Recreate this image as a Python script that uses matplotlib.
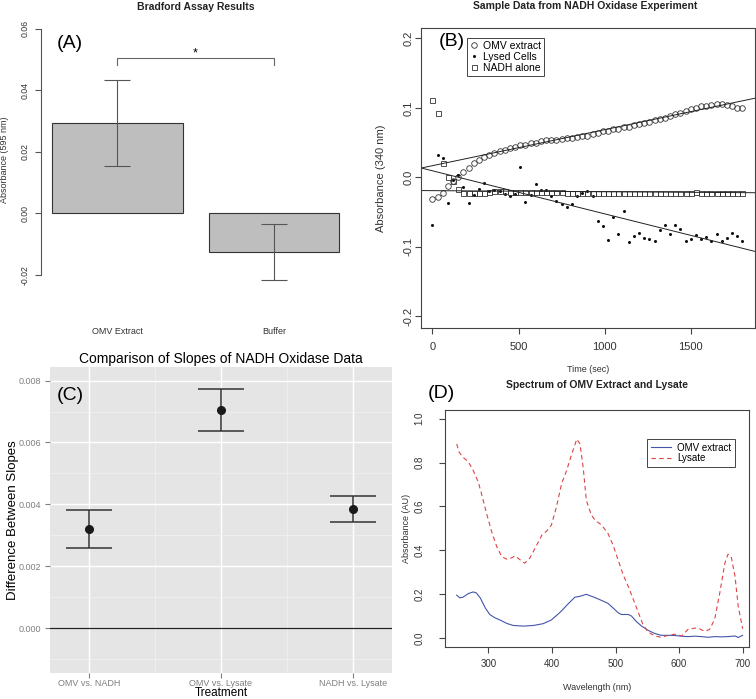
import numpy as np
import matplotlib
matplotlib.use('Agg')
import matplotlib.pyplot as plt

plt.rcParams['font.family'] = ['Liberation Sans', 'DejaVu Sans']

W, H = 756, 699

# ---- (A) Bradford assay ----
bradford_labels = ['OMV Extract', 'Buffer']
bradford_mean = [0.0293, -0.0127]
bradford_lo = [0.0153, -0.0218]
bradford_hi = [0.0433, -0.0036]

# ---- (B) NADH oxidase time course ----
time_s = np.arange(0, 1801, 30)
omv_abs = [-0.031, -0.029, -0.022, -0.013, -0.006, 0.001, 0.008, 0.014, 0.020, 0.025,
           0.029, 0.032, 0.035, 0.038, 0.040, 0.042, 0.044, 0.046, 0.047, 0.049,
           0.050, 0.052, 0.053, 0.054, 0.054, 0.055, 0.056, 0.057, 0.058, 0.059,
           0.060, 0.062, 0.064, 0.066, 0.067, 0.069, 0.070, 0.072, 0.073, 0.075,
           0.077, 0.078, 0.080, 0.082, 0.084, 0.086, 0.088, 0.091, 0.093, 0.096,
           0.098, 0.100, 0.102, 0.103, 0.104, 0.105, 0.105, 0.104, 0.102, 0.100, 0.100]
lysed_abs = [-0.069, 0.032, 0.028, -0.037, -0.004, 0.003, -0.014, -0.037, -0.026, -0.017,
             -0.008, -0.020, -0.018, -0.020, -0.024, -0.027, -0.024, 0.015, -0.036, -0.025,
             -0.010, -0.018, -0.018, -0.027, -0.034, -0.039, -0.043, -0.038, -0.027, -0.022,
             -0.020, -0.027, -0.063, -0.070, -0.090, -0.057, -0.081, -0.048, -0.093, -0.084,
             -0.080, -0.087, -0.089, -0.091, -0.076, -0.069, -0.082, -0.069, -0.075, -0.092,
             -0.089, -0.083, -0.089, -0.086, -0.092, -0.082, -0.092, -0.088, -0.080, -0.085, -0.091]
nadh_abs = [0.112, 0.093, 0.021, 0.000, -0.006, -0.017, -0.022, -0.023, -0.023, -0.022,
            -0.022, -0.021, -0.020, -0.019, -0.020, -0.021, -0.021, -0.021, -0.021, -0.021,
            -0.021, -0.021, -0.021, -0.021, -0.021, -0.021, -0.022, -0.022, -0.022, -0.022,
            -0.022, -0.022, -0.022, -0.022, -0.022, -0.022, -0.022, -0.022, -0.022, -0.022,
            -0.022, -0.022, -0.022, -0.022, -0.022, -0.022, -0.022, -0.022, -0.023, -0.023,
            -0.023, -0.021, -0.022, -0.022, -0.023, -0.023, -0.023, -0.023, -0.023, -0.023, -0.023]
fit_intercept = [0.0167, 0.0094, -0.0192]
fit_slope = [5.19e-5, -6.2e-5, -1.6e-6]
series_names = ['OMV extract', 'Lysed Cells', 'NADH alone']

# ---- (C) slope differences ----
comp_labels = ['OMV vs. NADH', 'OMV vs. Lysate', 'NADH vs. Lysate']
comp_mean = [0.00320, 0.00704, 0.00385]
comp_lo = [0.00260, 0.00636, 0.00342]
comp_hi = [0.00381, 0.00774, 0.00428]

# ---- (D) spectra ----
wl_omv = [250, 255, 260, 268, 276, 281, 287, 295, 302, 310, 318, 329, 339, 355, 371, 386,
          399, 412, 426, 436, 444, 454, 465, 475, 488, 496, 504, 509, 520, 525, 533, 541,
          551, 562, 572, 583, 593, 604, 614, 625, 635, 646, 656, 667, 677, 688, 693, 700]
spec_omv = [0.195, 0.183, 0.186, 0.202, 0.210, 0.205, 0.183, 0.137, 0.107, 0.092, 0.082,
            0.066, 0.057, 0.054, 0.057, 0.065, 0.082, 0.115, 0.157, 0.186, 0.190, 0.199,
            0.187, 0.175, 0.158, 0.137, 0.115, 0.107, 0.107, 0.100, 0.074, 0.054, 0.035,
            0.020, 0.012, 0.012, 0.011, 0.008, 0.006, 0.008, 0.006, 0.003, 0.006, 0.005,
            0.006, 0.009, 0.002, 0.012]
wl_lys = [250, 254, 260, 268, 276, 284, 289, 297, 305, 313, 321, 329, 336, 342, 350, 357,
          365, 376, 384, 392, 399, 407, 415, 423, 431, 439, 444, 449, 454, 462, 468, 478,
          488, 496, 504, 512, 520, 528, 536, 543, 551, 562, 572, 583, 593, 604, 614, 625,
          632, 640, 648, 656, 664, 672, 677, 682, 688, 693, 700]
spec_lys = [0.885, 0.847, 0.824, 0.805, 0.764, 0.711, 0.658, 0.568, 0.485, 0.417, 0.371,
            0.359, 0.365, 0.374, 0.356, 0.341, 0.364, 0.424, 0.469, 0.489, 0.515, 0.598,
            0.703, 0.764, 0.839, 0.907, 0.885, 0.779, 0.628, 0.560, 0.537, 0.515, 0.477,
            0.424, 0.356, 0.288, 0.235, 0.175, 0.115, 0.062, 0.027, 0.009, 0.003, 0.012,
            0.017, 0.009, 0.039, 0.045, 0.042, 0.030, 0.039, 0.085, 0.205, 0.341, 0.382,
            0.371, 0.281, 0.145, 0.042]


def fx(x):
    return x / W


def fy(y):
    return 1 - y / H


def add_ax(l, t, r, b):
    return fig.add_axes([l / W, 1 - b / H, (r - l) / W, (b - t) / H])


fig = plt.figure(figsize=(W / 100, H / 100), dpi=100)
dark = '#444444'

# ================= Panel A =================
axA = add_ax(40.6, 20, 350.7, 290)
xa = 0.7 + 1.2 * np.arange(len(bradford_mean))
mean_a = np.array(bradford_mean)
axA.bar(xa, mean_a, width=1.0, color='#BEBEBE', edgecolor='#333333', linewidth=0.8)
axA.errorbar(xa, mean_a, yerr=[mean_a - np.array(bradford_lo), np.array(bradford_hi) - mean_a],
             fmt='none', ecolor='#555555', elinewidth=0.8, capsize=9.5, capthick=0.8)
axA.plot([xa[0], xa[0], xa[1], xa[1]], [0.0481, 0.0504, 0.0504, 0.0481], color='#666666', lw=0.8)
axA.text(xa.mean(), 0.0500, '*', ha='center', va='bottom', fontsize=9)
axA.set_xlim(0.112, 2.488)
axA.set_ylim(-0.025, 0.0628)
for s in ['top', 'right', 'bottom']:
    axA.spines[s].set_visible(False)
axA.spines['left'].set_bounds(-0.02, 0.06)
axA.spines['left'].set_color('#555555')
axA.set_yticks([-0.02, 0.0, 0.02, 0.04, 0.06])
axA.set_yticklabels(['-0.02', '0.00', '0.02', '0.04', '0.06'], rotation=90, va='center')
axA.tick_params(axis='y', labelsize=6.3, length=4, color='#555555', labelcolor='#333333', pad=4)
axA.set_xticks(xa)
axA.set_xticklabels(bradford_labels)
axA.tick_params(axis='x', length=0, labelsize=6.5, pad=27, labelcolor='#333333')
axA.set_facecolor('none')
fig.text(fx(196), fy(7), 'Bradford Assay Results', ha='center', va='center',
         fontsize=7.5, fontweight='bold', color='#222222')
fig.text(fx(5), fy(160), 'Absorbance (595 nm)', ha='center', va='center', rotation=90,
         fontsize=6.5, color='#333333')
fig.text(fx(70), fy(43), '(A)', ha='center', va='center', fontsize=14)

# ================= Panel B =================
axB = add_ax(421, 28, 754.5, 328)
axB.plot(time_s, omv_abs, 'o', mfc='none', mec='#333333', ms=4, mew=0.6, label=series_names[0])
axB.plot(time_s, lysed_abs, 'o', mfc='#111111', mec='#111111', ms=2.2, mew=0, label=series_names[1])
axB.plot(time_s, nadh_abs, 's', mfc='none', mec='#333333', ms=3.6, mew=0.6, label=series_names[2])
for b0, b1 in zip(fit_intercept, fit_slope):
    axB.axline((0, b0), slope=b1, color='#222222', lw=0.7)
axB.set_xlim(-66, 1870)
axB.set_ylim(-0.217, 0.215)
axB.set_xticks([0, 500, 1000, 1500])
axB.set_yticks([-0.2, -0.1, 0.0, 0.1, 0.2])
axB.set_yticklabels(['-0.2', '-0.1', '0.0', '0.1', '0.2'], rotation=90, va='center')
axB.tick_params(axis='x', labelsize=8, length=4, color=dark, labelcolor='#333333', pad=6)
axB.tick_params(axis='y', labelsize=8, length=4, color=dark, labelcolor='#333333', pad=1.5)
for s in axB.spines.values():
    s.set_color(dark)
    s.set_linewidth(0.8)
leg = axB.legend(loc='upper left', bbox_to_anchor=(fx(467), fy(38)), bbox_transform=fig.transFigure,
                 borderaxespad=0, fancybox=False, edgecolor=dark, fontsize=7.5,
                 handlelength=0.8, handletextpad=0.5, borderpad=0.25, labelspacing=0.12,
                 framealpha=1)
leg.get_frame().set_linewidth(0.7)
fig.text(fx(585), fy(6), 'Sample Data from NADH Oxidase Experiment', ha='center', va='center',
         fontsize=7.5, fontweight='bold', color='#222222')
fig.text(fx(588), fy(370), 'Time (sec)', ha='center', va='center', fontsize=6.5, color='#333333')
fig.text(fx(381), fy(178), 'Absorbance (340 nm)', ha='center', va='center', rotation=90,
         fontsize=8, color='#333333')
fig.text(fx(452), fy(42), '(B)', ha='center', va='center', fontsize=14)

# ================= Panel C =================
axC = add_ax(50, 367, 391.7, 673)
axC.set_facecolor('#E5E5E5')
xc = np.arange(1, len(comp_mean) + 1)
axC.set_xlim(0.706, 3.292)
axC.set_ylim(-0.00145, 0.00844)
axC.set_xticks(xc)
axC.set_xticklabels(comp_labels)
axC.set_xticks([1.5, 2.5], minor=True)
axC.set_yticks([0.0, 0.002, 0.004, 0.006, 0.008])
axC.set_yticklabels(['0.000', '0.002', '0.004', '0.006', '0.008'])
axC.set_yticks([-0.001, 0.001, 0.003, 0.005, 0.007], minor=True)
axC.grid(which='major', color='white', lw=1.0)
axC.grid(which='minor', color='#F2F2F2', lw=0.5)
axC.set_axisbelow(True)
for s in axC.spines.values():
    s.set_visible(False)
axC.tick_params(which='major', labelsize=6.5, length=3.5, color='#7F7F7F', labelcolor='#7F7F7F')
axC.tick_params(axis='y', pad=3)
axC.tick_params(axis='x', pad=1)
axC.tick_params(which='minor', length=0)
axC.axhline(0, color='#222222', lw=0.9)
cm = np.array(comp_mean)
axC.errorbar(xc, cm, yerr=[cm - np.array(comp_lo), np.array(comp_hi) - cm], fmt='o',
             color='#1A1A1A', ecolor='#333333', ms=5.5, elinewidth=1.1, capsize=16.5, capthick=1.1)
fig.text(fx(221), fy(359), 'Comparison of Slopes of NADH Oxidase Data', ha='center', va='center',
         fontsize=10)
fig.text(fx(13), fy(520), 'Difference Between Slopes', ha='center', va='center', rotation=90,
         fontsize=9.5)
fig.text(fx(221), fy(693), 'Treatment', ha='center', va='center', fontsize=8.5)
fig.text(fx(70), fy(396), '(C)', ha='center', va='center', fontsize=14)

# ================= Panel D =================
axD = add_ax(445, 410, 749, 646.7)
axD.plot(wl_omv, spec_omv, color='#4455AA', lw=0.8, label='OMV extract')
axD.plot(wl_lys, spec_lys, color='#DD4444', lw=0.8, ls=(0, (4, 3)), label='Lysate')
axD.set_xlim(231.6, 710)
axD.set_ylim(-0.04, 1.04)
axD.set_xticks([300, 400, 500, 600, 700])
axD.set_yticks([0.0, 0.2, 0.4, 0.6, 0.8, 1.0])
axD.set_yticklabels(['0.0', '0.2', '0.4', '0.6', '0.8', '1.0'], rotation=90, va='center')
axD.tick_params(axis='x', labelsize=7, length=4, color=dark, labelcolor='#333333', pad=5)
axD.tick_params(axis='y', labelsize=7, length=4, color=dark, labelcolor='#333333', pad=11)
for s in axD.spines.values():
    s.set_color(dark)
    s.set_linewidth(0.8)
legD = axD.legend(loc='upper left', bbox_to_anchor=(fx(647), fy(439)), bbox_transform=fig.transFigure,
                  borderaxespad=0, fancybox=False, edgecolor=dark, fontsize=7,
                  handlelength=2.1, handletextpad=0.6, borderpad=0.4, labelspacing=0.05,
                  framealpha=1)
legD.get_frame().set_linewidth(0.7)
fig.text(fx(597), fy(385), 'Spectrum of OMV Extract and Lysate', ha='center', va='center',
         fontsize=7.5, fontweight='bold', color='#222222')
fig.text(fx(597), fy(687), 'Wavelength (nm)', ha='center', va='center', fontsize=6.5, color='#333333')
fig.text(fx(406), fy(528), 'Absorbance (AU)', ha='center', va='center', rotation=90,
         fontsize=6.5, color='#333333')
fig.text(fx(441), fy(393), '(D)', ha='center', va='center', fontsize=14)

fig.savefig('out.png', dpi=100)
